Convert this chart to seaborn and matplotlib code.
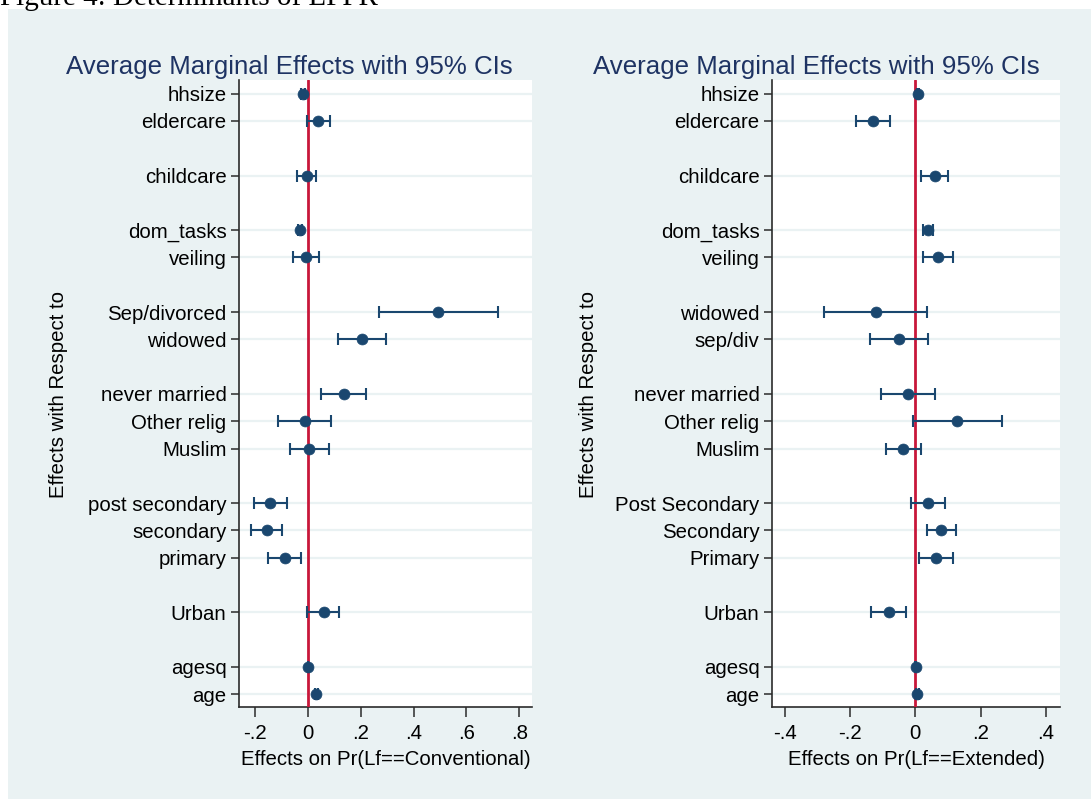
import numpy as np
import pandas as pd
import matplotlib
matplotlib.use("Agg")
import matplotlib.pyplot as plt
import seaborn as sns
from matplotlib.patches import Rectangle

# ---------------- data ----------------
groups_left = [["hhsize", "eldercare"], ["childcare"], ["dom_tasks", "veiling"],
               ["Sep/divorced", "widowed"], ["never married", "Other relig", "Muslim"],
               ["post secondary", "secondary", "primary"], ["Urban"], ["agesq", "age"]]
est_left = [-0.018, 0.040, -0.004, -0.029, -0.006, 0.492, 0.206, 0.136, -0.011, 0.005,
            -0.141, -0.156, -0.087, 0.060, 0.001, 0.033]
lo_left = [-0.024, -0.004, -0.039, -0.035, -0.054, 0.269, 0.115, 0.050, -0.111, -0.069,
           -0.202, -0.216, -0.151, -0.002, 0.000, 0.029]
hi_left = [-0.012, 0.084, 0.030, -0.023, 0.043, 0.718, 0.296, 0.221, 0.087, 0.079,
           -0.080, -0.098, -0.026, 0.117, 0.002, 0.037]

groups_right = [["hhsize", "eldercare"], ["childcare"], ["dom_tasks", "veiling"],
                ["widowed", "sep/div"], ["never married", "Other relig", "Muslim"],
                ["Post Secondary", "Secondary", "Primary"], ["Urban"], ["agesq", "age"]]
est_right = [0.008, -0.130, 0.060, 0.040, 0.070, -0.122, -0.049, -0.023, 0.128, -0.037,
             0.038, 0.079, 0.064, -0.081, 0.001, 0.006]
lo_right = [0.005, -0.183, 0.017, 0.022, 0.024, -0.279, -0.138, -0.106, -0.008, -0.090,
            -0.013, 0.037, 0.012, -0.135, 0.000, 0.002]
hi_right = [0.011, -0.078, 0.101, 0.055, 0.115, 0.036, 0.040, 0.061, 0.266, 0.018,
            0.090, 0.123, 0.114, -0.030, 0.002, 0.010]

xticks_left = [-0.2, 0, 0.2, 0.4, 0.6, 0.8]
xticklabels_left = ["-.2", "0", ".2", ".4", ".6", ".8"]
xticks_right = [-0.4, -0.2, 0, 0.2, 0.4]
xticklabels_right = ["-.4", "-.2", "0", ".2", ".4"]

title = "Average Marginal Effects with 95% CIs"
ylabel = "Effects with Respect to"
xlabel_left = "Effects on Pr(Lf==Conventional)"
xlabel_right = "Effects on Pr(Lf==Extended)"
fig_caption = "Figure 4: Determinants of LFPR"

# ---------------- style ----------------
sns.set_style("ticks")
plt.rcParams['font.family'] = ['Liberation Sans', 'DejaVu Sans']

NAVY = "#1A476F"
RED = "#C8173A"
BG = "#EAF2F3"
TITLE_C = "#1E3363"

W, H = 1091, 799
fig = plt.figure(figsize=(W / 100, H / 100), dpi=100)
fig.patch.set_facecolor("white")
bg_ax = fig.add_axes([8 / W, 0, 1 - 8 / W, (H - 9) / H], zorder=-10)
bg_ax.set_facecolor(BG)
bg_ax.set_xticks([])
bg_ax.set_yticks([])
for s in bg_ax.spines.values():
    s.set_visible(False)

fig.text(0, 1 - 5 / H, fig_caption, family="Liberation Serif", fontsize=21,
         va="baseline", ha="left", color="black")


def layout(groups):
    labels, pos = [], []
    p = 0
    for g in groups:
        for lab in g:
            labels.append(lab)
            pos.append(p)
            p += 1
        p += 1
    return labels, pos


def panel(rect, groups, est, lo, hi, xlim, xticks, xticklabels, xlabel, title_x, ylabel_x):
    ax = fig.add_axes(rect, zorder=1)
    ax.set_facecolor("white")
    labels, pos = layout(groups)
    df = pd.DataFrame({"label": labels, "pos": pos, "est": est, "lo": lo, "hi": hi})
    ax.axvline(0, color=RED, lw=2.0, zorder=3)
    ax.errorbar(df["est"], df["pos"],
                xerr=[df["est"] - df["lo"], df["hi"] - df["est"]],
                fmt="none", ecolor=NAVY, elinewidth=1.5, capsize=4.5, capthick=1.5, zorder=4)
    sns.scatterplot(data=df, x="est", y="pos", ax=ax, color=NAVY, s=62,
                    edgecolor=NAVY, linewidth=0.5, zorder=5, legend=False)
    ax.set_ylim(max(pos) + 0.47, -0.5)
    ax.set_yticks(pos)
    ax.set_yticklabels(labels, fontsize=14.7, color="black")
    ax.set_xlim(*xlim)
    ax.set_xticks(xticks)
    ax.set_xticklabels(xticklabels, fontsize=14.7, color="black")
    ax.set_xlabel(xlabel, fontsize=14.7, color="black", labelpad=5)
    ax.set_ylabel("")
    ax.yaxis.grid(True, color=BG, lw=1.6, zorder=0)
    ax.xaxis.grid(False)
    ax.set_axisbelow(True)
    for s in ["top", "right"]:
        ax.spines[s].set_visible(False)
    for s in ["left", "bottom"]:
        ax.spines[s].set_color("#2b2b2b")
        ax.spines[s].set_linewidth(1.2)
    ax.tick_params(axis="y", length=6, width=1.1, color="#2b2b2b", pad=3)
    ax.tick_params(axis="x", length=7, width=1.1, color="#2b2b2b", pad=5)
    fig.text(title_x / W, 1 - 74 / H, title, fontsize=18.6, color=TITLE_C,
             ha="center", va="baseline")
    fig.text(ylabel_x / W, 1 - 394 / H, ylabel, fontsize=14.7, rotation=90,
             ha="center", va="center", color="black")
    return ax


bottom = (H - 707) / H
height = (707 - 80) / H
panel([239 / W, bottom, (532 - 239) / W, height], groups_left, est_left, lo_left, hi_left,
      (-0.26, 0.848), xticks_left, xticklabels_left, xlabel_left, 289, 59)
panel([772 / W, bottom, (1060 - 772) / W, height], groups_right, est_right, lo_right, hi_right,
      (-0.439, 0.443), xticks_right, xticklabels_right, xlabel_right, 816, 589)

fig.savefig("out.png", dpi=100)
